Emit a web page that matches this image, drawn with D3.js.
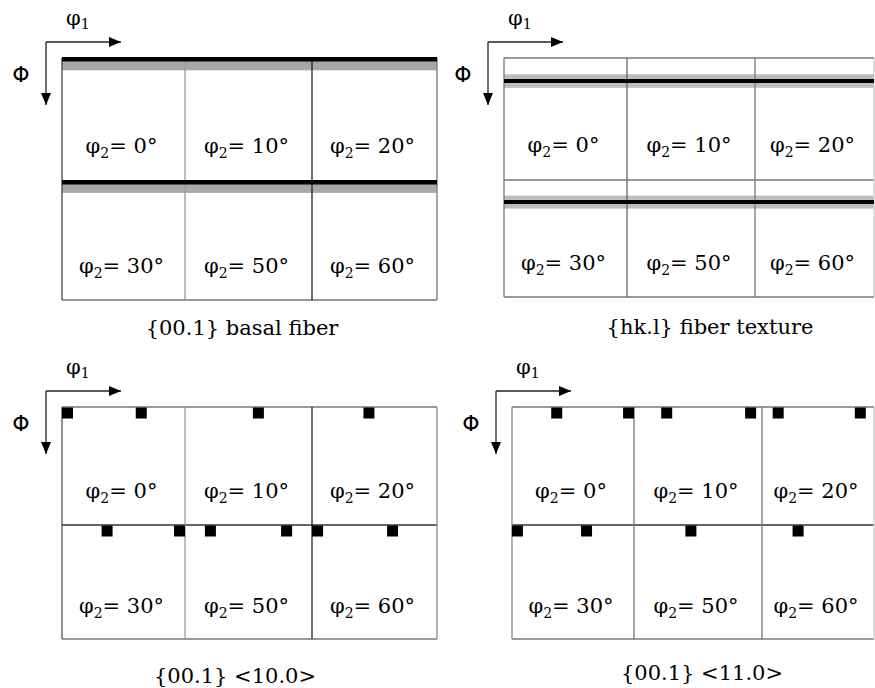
<!DOCTYPE html>
<html>
<head>
<meta charset="utf-8">
<script src="https://cdn.jsdelivr.net/npm/d3@7"></script>
<style>
  html, body { margin: 0; padding: 0; background: #fff; }
  svg { display: block; }
  .serif { font-family: "DejaVu Serif", serif; }
  .sans { font-family: "DejaVu Sans", sans-serif; }
</style>
</head>
<body>
<div id="chart"></div>
<script>
// φ2 section of every cell, row by row
const phi2Values = [0, 10, 20, 30, 50, 60];
const panelTitles = ["{00.1} basal fiber", "{hk.l} fiber texture", "{00.1} <10.0>", "{00.1} <11.0>"];

// fiber texture: Φ (deg) of the ideal fiber and its spread band
const fiberPhi = [1, 17, null, null];
const fiberSpreadLo = [2, 12, null, null];
const fiberSpreadHi = [9, 22, null, null];

// ideal orientations: φ1 (deg) at Φ = 0 for each φ2 section
const comp100 = [[4, 58], [52], [41], [33, 86], [18, 72], [4, 58]];
const comp110 = [[33, 86], [23, 82], [13, 79], [4, 55], [40], [29]];
const components = [null, null, comp100, comp110];

const width = 875, height = 688;

// layout of the four panels (pixel edges of the section grid)
const layout = [
  { cols: [62, 185, 312, 437], rows: [58, 181, 300], capX: 242, capY: 335,
    colStroke: ["#444", "#999", "#222", "#777"] },
  { cols: [504, 627, 755, 874], rows: [58, 180, 297], capX: 710, capY: 334,
    colStroke: ["#777", "#666", "#777", "#ccc"] },
  { cols: [62, 185, 312, 437], rows: [407, 525, 639], capX: 235, capY: 683,
    colStroke: ["#555", "#999", "#222", "#888"] },
  { cols: [512, 634, 762, 874], rows: [407, 525, 639], capX: 702, capY: 680,
    colStroke: ["#888", "#777", "#777", "#ccc"] }
];

const svg = d3.select("#chart").append("svg")
  .attr("width", width)
  .attr("height", height);

svg.append("defs").append("marker")
  .attr("id", "arrow")
  .attr("markerUnits", "userSpaceOnUse")
  .attr("markerWidth", 13)
  .attr("markerHeight", 11)
  .attr("refX", 12)
  .attr("refY", 5)
  .attr("orient", "auto")
  .append("path")
  .attr("d", "M0,0 L12,5 L0,10 Z")
  .attr("fill", "#000");

layout.forEach((p, pi) => {
  const g = svg.append("g").attr("class", "panel");
  const left = p.cols[0], top = p.rows[0];
  const right = p.cols[3], bottom = p.rows[2];

  // cells: each has its own φ1 / Φ scales (0..90 deg)
  const cells = phi2Values.map((v, i) => {
    const c = i % 3, r = Math.floor(i / 3);
    return {
      phi2: v, c, r,
      x: d3.scaleLinear().domain([0, 90]).range([p.cols[c], p.cols[c + 1]]),
      y: d3.scaleLinear().domain([0, 90]).range([p.rows[r], p.rows[r + 1]])
    };
  });

  // fiber spread bands
  if (fiberPhi[pi] !== null) {
    g.selectAll("rect.band").data(cells).join("rect")
      .attr("class", "band")
      .attr("x", d => d.x(0))
      .attr("width", d => d.x(90) - d.x(0))
      .attr("y", d => d.y(fiberSpreadLo[pi]))
      .attr("height", d => d.y(fiberSpreadHi[pi]) - d.y(fiberSpreadLo[pi]))
      .attr("fill", pi === 0 ? "#a8a8a8" : "#bdbdbd");
  }

  // horizontal grid lines
  g.selectAll("line.h").data(p.rows).join("line")
    .attr("class", "h")
    .attr("x1", left).attr("x2", right)
    .attr("y1", d => d).attr("y2", d => d)
    .attr("stroke", (d, i) => i === 1 && pi >= 2 ? "#333" : "#777")
    .attr("stroke-width", 1.3);

  // vertical grid lines
  g.selectAll("line.v").data(p.cols).join("line")
    .attr("class", "v")
    .attr("x1", d => d).attr("x2", d => d)
    .attr("y1", top).attr("y2", bottom)
    .attr("stroke", (d, i) => p.colStroke[i])
    .attr("stroke-width", 1.3);

  // fiber lines
  if (fiberPhi[pi] !== null) {
    g.selectAll("line.fiber").data(cells).join("line")
      .attr("class", "fiber")
      .attr("x1", d => d.x(0)).attr("x2", d => d.x(90))
      .attr("y1", d => d.y(fiberPhi[pi])).attr("y2", d => d.y(fiberPhi[pi]))
      .attr("stroke", "#000")
      .attr("stroke-width", pi === 0 ? 4.5 : 4);
  }

  // ideal orientation components
  if (components[pi]) {
    const pts = cells.flatMap((d, i) => components[pi][i].map(v => ({ cell: d, phi1: v })));
    const s = 11;
    g.selectAll("rect.comp").data(pts).join("rect")
      .attr("class", "comp")
      .attr("x", d => d.cell.x(d.phi1) - s / 2)
      .attr("y", d => d.cell.y(0) + 0.5)
      .attr("width", s)
      .attr("height", s)
      .attr("fill", "#000");
  }

  // φ2 labels
  const lab = g.selectAll("text.phi2").data(cells).join("text")
    .attr("class", "phi2 serif")
    .attr("x", d => (d.x(0) + d.x(90)) / 2 - 2)
    .attr("y", d => d.y(0) + 0.77 * (d.y(90) - d.y(0)))
    .attr("text-anchor", "middle")
    .attr("font-size", 21)
    .attr("fill", "#000");
  lab.append("tspan").text("φ");
  lab.append("tspan").attr("font-size", 14).attr("dy", 5).text("2");
  lab.append("tspan").attr("dy", -5).text(d => "= " + d.phi2 + "°");

  // axes arrows
  const ox = left - 16, oy = top - 16;
  g.append("line")
    .attr("x1", ox).attr("y1", oy).attr("x2", ox + 75).attr("y2", oy)
    .attr("stroke", "#222").attr("stroke-width", 1.3)
    .attr("marker-end", "url(#arrow)");
  g.append("line")
    .attr("x1", ox).attr("y1", oy).attr("x2", ox).attr("y2", oy + 63)
    .attr("stroke", "#222").attr("stroke-width", 1.3)
    .attr("marker-end", "url(#arrow)");

  const t1 = g.append("text")
    .attr("class", "serif")
    .attr("x", left + 4)
    .attr("y", top - 33)
    .attr("font-size", 21);
  t1.append("tspan").text("φ");
  t1.append("tspan").attr("font-size", 14).attr("dy", 4).text("1");

  g.append("text")
    .attr("class", "sans")
    .attr("x", left - 41)
    .attr("y", top + 24)
    .attr("text-anchor", "middle")
    .attr("font-size", 22)
    .text("Φ");

  // caption
  g.append("text")
    .attr("class", "serif")
    .attr("x", p.capX)
    .attr("y", p.capY)
    .attr("text-anchor", "middle")
    .attr("font-size", 21)
    .text(panelTitles[pi]);
});
</script>
</body>
</html>
